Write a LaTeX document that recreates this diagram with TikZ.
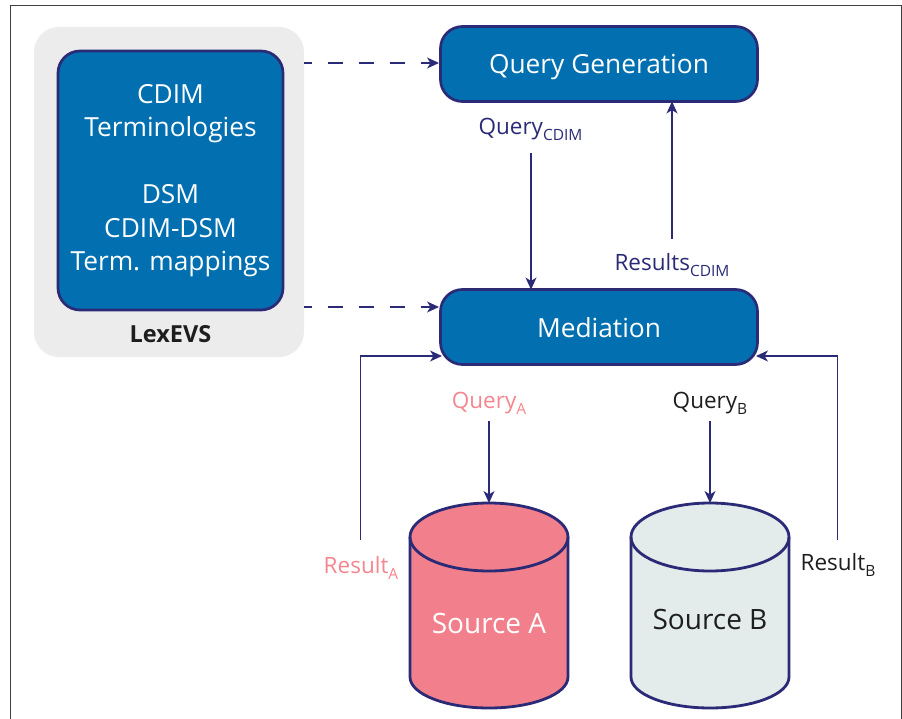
\documentclass[tikz,border=0pt]{standalone}
\usepackage{fontspec}
\setmainfont{Open Sans}
\usetikzlibrary{arrows.meta}
\definecolor{boxblue}{HTML}{0270B0}
\definecolor{navy}{HTML}{2B2A76}
\definecolor{pinkfill}{HTML}{F2808C}
\definecolor{pinktext}{HTML}{F4868F}
\definecolor{lexgray}{HTML}{ECECEC}
\definecolor{paleb}{HTML}{E3EBEB}
\definecolor{ink}{HTML}{1E1E1E}
\newcommand{\lowtext}[1]{\raisebox{-0.28em}{\fontsize{15.5}{15.5}\selectfont #1}}
\tikzset{
  x=1pt,y=-1pt,
  bluebox/.style={draw=navy,line width=2.7pt,fill=boxblue,text=white,rounded corners=22pt,inner sep=0pt,outer sep=0pt,align=center,font=\fontsize{26.3}{33.5}\selectfont},
  wide/.style={bluebox,minimum width=317pt,minimum height=75pt,text depth=0pt,text height=20pt},
  dbline/.style={draw=navy,line width=2.8pt},
  dbanchor/.style={inner sep=0pt,outer sep=0pt,minimum width=158pt,minimum height=205pt},
  lbl/.style={inner sep=0pt,font=\fontsize{22.5}{26}\selectfont},
  srclabel/.style={inner sep=0pt,font=\fontsize{28}{32}\selectfont},
  arr/.style={draw=navy,line width=1.15pt,-{Stealth[length=12pt,width=11pt,inset=3.5pt]}},
  dasharr/.style={arr,dash pattern=on 15.5pt off 15.5pt,dash phase=7.5pt}
}
\begin{document}
\begin{tikzpicture}
\useasboundingbox (0,0) rectangle (902,719);
\draw[color=black!75,line width=1.1pt] (10.5,725) |- (901.5,5.5) -- (901.5,725);
\node[fill=lexgray,rounded corners=25pt,inner sep=0pt,outer sep=0pt,minimum width=270pt,minimum height=330pt] (lex) at (169,192) {};
\node[bluebox,minimum width=225pt,minimum height=259pt] (terms) at (170.5,180.5) {CDIM\\Terminologies\\[33.5pt]DSM\\CDIM-DSM\\Term. mappings};
\node[inner sep=0pt,text=ink,font=\fontsize{23.5}{27}\selectfont\bfseries] (lexname) at (170.5,334) {LexEVS};
\node[wide] (qgen) at (599,64) {Query Generation};
\node[wide] (med) at (599,327) {Mediation};
\node[dbanchor] (srca) at (489,605.5) {};
\node[dbanchor] (srcb) at (710,605.5) {};
\foreach \n/\c in {srca/pinkfill,srcb/paleb}{
  \draw[dbline,fill=\c] (\n.west |- 0,537) arc[start angle=180,end angle=0,x radius=79pt,y radius=34pt]
    -- (\n.east |- 0,677) arc[start angle=0,end angle=-180,x radius=79pt,y radius=31pt] -- cycle;
  \draw[dbline] (\n.west |- 0,537) arc[start angle=180,end angle=360,x radius=79pt,y radius=34pt];
}
\node[srclabel,text=white] (la) at (489,623) {Source A};
\node[srclabel,text=ink] (lb) at (710,619) {Source B};
\node[lbl,text=navy] (qc) at (530.5,129.5) {Query\lowtext{CDIM}};
\node[lbl,text=navy] (rc) at (672,265) {Results\lowtext{CDIM}};
\node[lbl,text=pinktext] (qa) at (489,403) {Query\lowtext{A}};
\node[lbl,text=ink] (qb) at (710,403) {Query\lowtext{B}};
\node[lbl,text=pinktext] (ra) at (361,568) {Result\lowtext{A}};
\node[lbl,text=ink] (rb) at (838,565) {Result\lowtext{B}};
\coordinate (dash1) at (304,63);
\coordinate (dashend1) at (439,63);
\coordinate (dash2) at (304,307);
\coordinate (dashend2) at (439,307);
\coordinate (qcs) at (531,153);
\coordinate (rcs) at (672,239);
\coordinate (qas) at (489,421);
\coordinate (qbs) at (710,421);
\coordinate (ras) at (360.5,540);
\coordinate (rbs) at (837.5,540);
\coordinate (rae) at (442,356);
\coordinate (rbe) at (756,356);
\draw[dasharr] (dash1) -- (dashend1);
\draw[dasharr] (dash2) -- (dashend2);
\draw[arr] (qcs) -- (qcs |- med.north);
\draw[arr] (rcs) -- (rcs |- qgen.south);
\draw[arr] (qas) -- (srca.north);
\draw[arr] (qbs) -- (srcb.north);
\draw[arr] (ras) |- (rae);
\draw[arr] (rbs) |- (rbe);
\end{tikzpicture}
\end{document}
